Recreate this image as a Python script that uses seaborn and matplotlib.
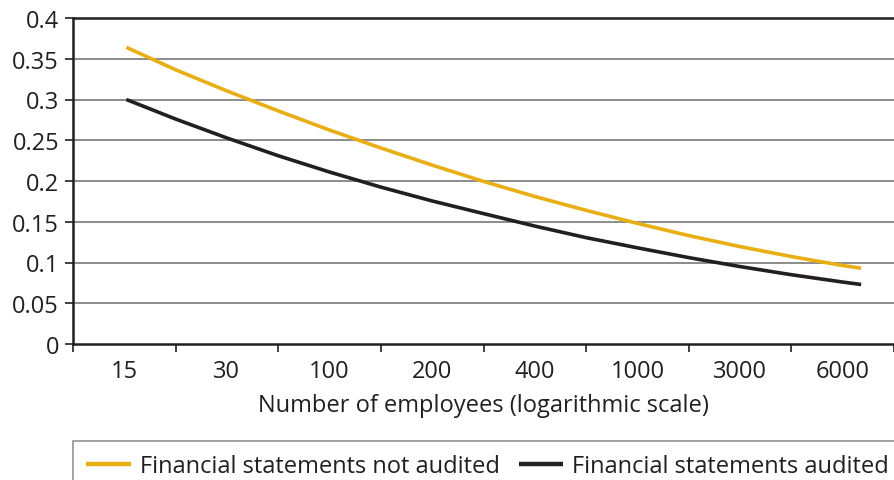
import numpy as np
import pandas as pd
import matplotlib
matplotlib.use("Agg")
import matplotlib.pyplot as plt
import seaborn as sns
from matplotlib.lines import Line2D

# Categorie dell'asse x (posizionate a passo costante)
emp_labels = ["15", "30", "100", "200", "400", "1000", "3000", "6000"]

# Posizioni lungo l'asse x (in unita' di categoria) e valori
x_pos = [0.02, 0.5, 1, 1.5, 2, 2.5, 3, 3.5, 4, 4.5, 5, 5.5, 6, 6.5, 7, 7.18]
not_audited = [0.364, 0.3365, 0.3105, 0.286, 0.2625, 0.2405, 0.2195, 0.1995,
               0.181, 0.164, 0.148, 0.133, 0.1195, 0.1073, 0.0963, 0.093]
audited = [0.300, 0.276, 0.2528, 0.231, 0.211, 0.1925, 0.1755, 0.160,
           0.1447, 0.1305, 0.118, 0.106, 0.095, 0.085, 0.076, 0.073]

series_names = ["Financial statements not audited", "Financial statements audited"]
colors = ["#E8AE14", "#231F20"]

df = pd.concat([
    pd.DataFrame({"x": x_pos, "y": not_audited, "serie": series_names[0]}),
    pd.DataFrame({"x": x_pos, "y": audited, "serie": series_names[1]}),
])

sns.set_style("white")
plt.rcParams["font.family"] = ["Open Sans", "DejaVu Sans"]
plt.rcParams["font.size"] = 17
plt.rcParams["lines.solid_capstyle"] = "butt"

fig = plt.figure(figsize=(8.94, 4.81), dpi=100)
ax = fig.add_axes([73 / 894, 1 - 345 / 481, 1 - 73 / 894, (345 - 19) / 481])

sns.lineplot(data=df, x="x", y="y", hue="serie", palette=colors,
             linewidth=2.6, ax=ax, legend=False, sort=False)

# asse y
ax.set_ylim(0, 0.4)
yt = np.arange(0, 0.41, 0.05)
ax.set_yticks(yt)
ax.set_yticklabels(["0"] + [("%.2f" % v).rstrip("0") for v in yt[1:]])
for v in yt[1:-1]:
    ax.axhline(v, color="#6e6e6e", lw=1.1, zorder=0)

# asse x: tacche ai bordi delle categorie, etichette al centro
ax.set_xlim(-0.5, -0.5 + (894 - 73) / 103)
ax.set_xticks(np.arange(-0.5, 8, 1))
ax.set_xticklabels([])
ax.set_xticks(np.arange(8), minor=True)
ax.set_xticklabels(emp_labels, minor=True)
ax.tick_params(axis="x", which="major", length=6, width=1.2, color="#231F20", direction="out", bottom=True)
ax.tick_params(axis="x", which="minor", length=0, pad=11, labelsize=17, colors="#231F20")
ax.tick_params(axis="y", length=6, width=1.2, color="#231F20", left=True, labelsize=17,
               labelcolor="#231F20", pad=4)

ax.set_xlabel("Number of employees (logarithmic scale)", fontsize=17, color="#231F20", labelpad=7)
ax.set_ylabel("")

for s in ["left", "bottom", "top"]:
    ax.spines[s].set_color("#231F20")
    ax.spines[s].set_linewidth(1.8)
ax.spines["right"].set_visible(False)

handles = [Line2D([], [], color=c, lw=3.2) for c in colors]
leg = fig.legend(handles, series_names, loc="upper left",
                 bbox_to_anchor=(73 / 894, 1 - 442 / 481), bbox_transform=fig.transFigure,
                 ncol=2, frameon=True, fancybox=False, fontsize=17,
                 handlelength=1.9, handletextpad=0.38, columnspacing=0.8,
                 borderpad=0.55, borderaxespad=0)
leg.get_frame().set_edgecolor("#6e6e6e")
leg.get_frame().set_linewidth(1.1)
for t in leg.get_texts():
    t.set_color("#231F20")

fig.savefig("out.png", dpi=100)
